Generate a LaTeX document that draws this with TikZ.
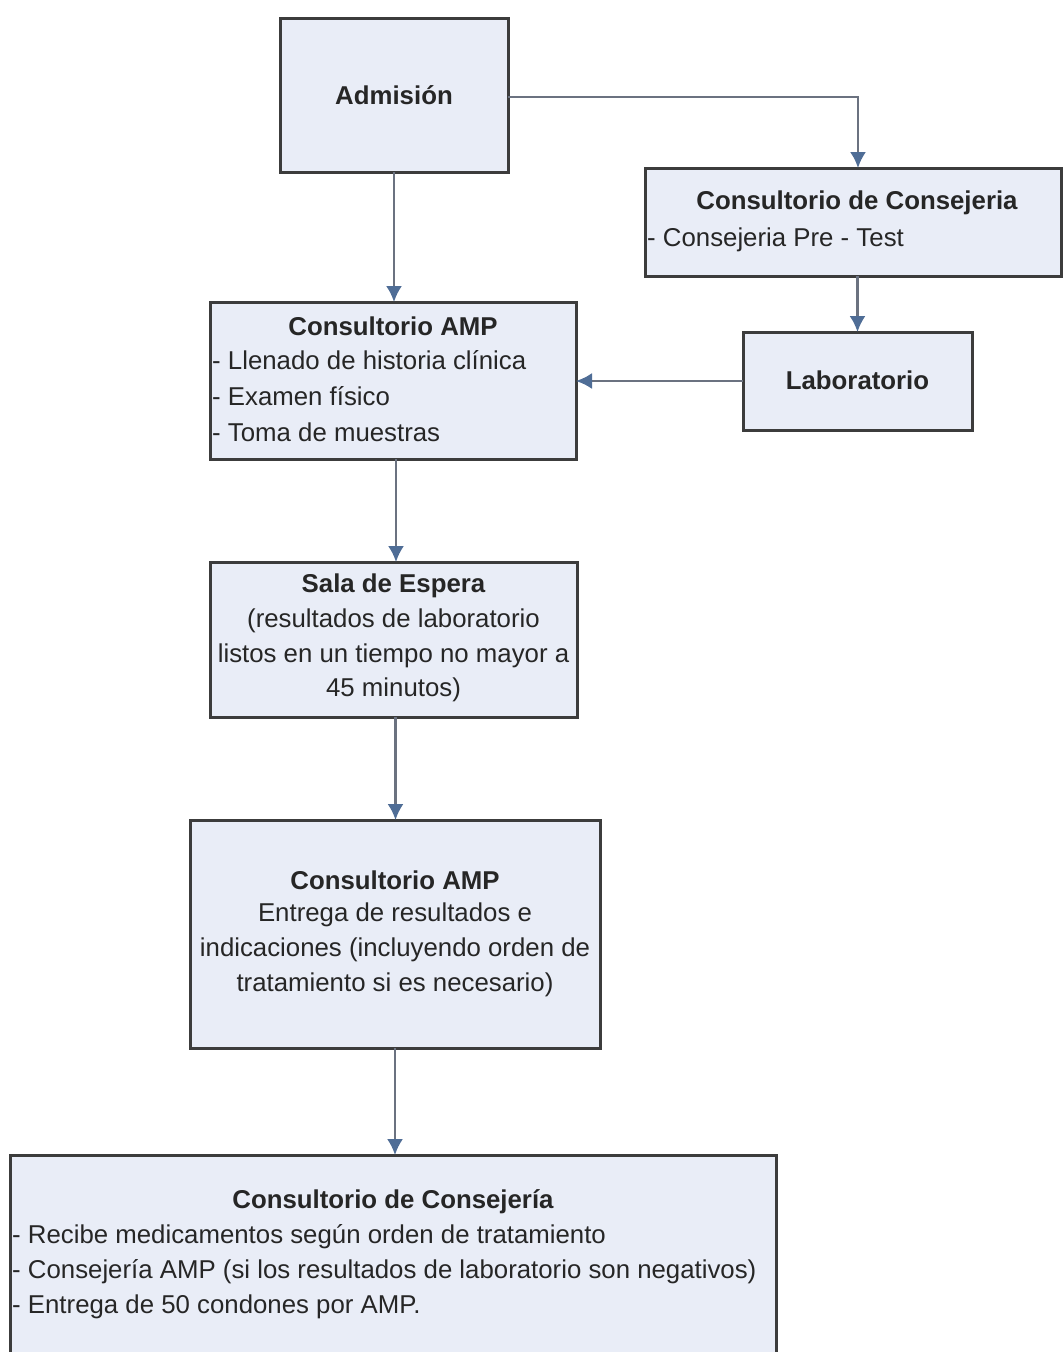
\documentclass[tikz,border=0pt]{standalone}
\usepackage{fontspec}
\setmainfont{Liberation Sans}
\usetikzlibrary{arrows.meta,calc}
\definecolor{boxfill}{HTML}{E9EDF7}
\definecolor{boxline}{HTML}{3C3C3C}
\definecolor{conline}{HTML}{6B7280}
\definecolor{tipcol}{HTML}{4F6D96}
\tikzset{
  flowbox/.style={draw=boxline, line width=3pt, fill=boxfill, inner sep=0pt, outer sep=0pt},
  conn/.style={draw=conline, line width=2.2pt, -{Latex[length=16pt,width=16pt,color=tipcol]}},
  txt/.style={font=\fontsize{25.8}{35}\selectfont, text=black!85, inner sep=0pt},
  ttl/.style={txt, font=\fontsize{25.8}{35}\selectfont\bfseries}
}
\begin{document}
\begin{tikzpicture}[x=1pt,y=-1pt]
\clip (0,0) rectangle (1063,1352);
\fill[white] (0,0) rectangle (1063,1352);
% boxes
\node[flowbox, minimum width=228pt, minimum height=154pt] (adm) at (394,95) {};
\node[flowbox, minimum width=416pt, minimum height=108pt] (cons1) at (853,222) {};
\node[flowbox, minimum width=229pt, minimum height=98pt] (lab) at (857.5,381) {};
\node[flowbox, minimum width=366pt, minimum height=157pt] (amp1) at (393,380.5) {};
\node[flowbox, minimum width=367pt, minimum height=155pt] (sala) at (393.5,639.5) {};
\node[flowbox, minimum width=410pt, minimum height=228pt] (amp2) at (395,934) {};
\node[flowbox, minimum width=766pt, minimum height=230pt] (cons2) at (393,1270) {};
% texts
\node[ttl] (tAdm) at (394,95) {Admisión};
\node[ttl] (tC1) at (857,203) {Consultorio de Consejeria};
\node[txt, anchor=west] (tC1a) at (647,240) {- Consejeria Pre - Test};
\node[ttl] (tLab) at (857.5,380) {Laboratorio};
\node[ttl] (tA1) at (393,326) {Consultorio AMP};
\node[txt, anchor=west] (tA1a) at (212,360) {- Llenado de historia clínica};
\node[txt, anchor=west] (tA1b) at (212,396) {- Examen físico};
\node[txt, anchor=west] (tA1c) at (212,432) {- Toma de muestras};
\node[ttl] (tS) at (393.5,586) {Sala de Espera};
\node[txt] (tSa) at (393.5,621) {(resultados de laboratorio};
\node[txt] (tSb) at (393.5,656) {listos en un tiempo no mayor a};
\node[txt] (tSc) at (393.5,690) {45 minutos)};
\node[ttl] (tA2) at (395,880) {Consultorio AMP};
\node[txt] (tA2a) at (395,915) {Entrega de resultados e};
\node[txt] (tA2b) at (395,950) {indicaciones (incluyendo orden de};
\node[txt] (tA2c) at (395,985) {tratamiento si es necesario)};
\node[ttl] (tC2) at (393,1202) {Consultorio de Consejería};
\node[txt, anchor=west] (tC2a) at (12,1237) {- Recibe medicamentos según orden de tratamiento};
\node[txt, anchor=west] (tC2b) at (12,1272) {- Consejería AMP (si los resultados de laboratorio son negativos)};
\node[txt, anchor=west] (tC2c) at (12,1307) {- Entrega de 50 condones por AMP.};
% connectors
\coordinate (k1) at ($(adm.east)+(0,2)$);
\draw[conn] (k1) -| ([xshift=5pt]cons1.north);
\draw[conn] (lab.north |- cons1.south) -- (lab.north);
\draw[conn] (lab.west) -- (lab.west -| amp1.east);
\draw[conn] (adm.south) -- (adm.south |- amp1.north);
\draw[conn] ([xshift=3pt]amp1.south) -- ([xshift=3pt]amp1.south |- sala.north);
\draw[conn] ([xshift=2pt]sala.south) -- ([xshift=2pt]sala.south |- amp2.north);
\draw[conn] (amp2.south) -- (amp2.south |- cons2.north);
\end{tikzpicture}
\end{document}
